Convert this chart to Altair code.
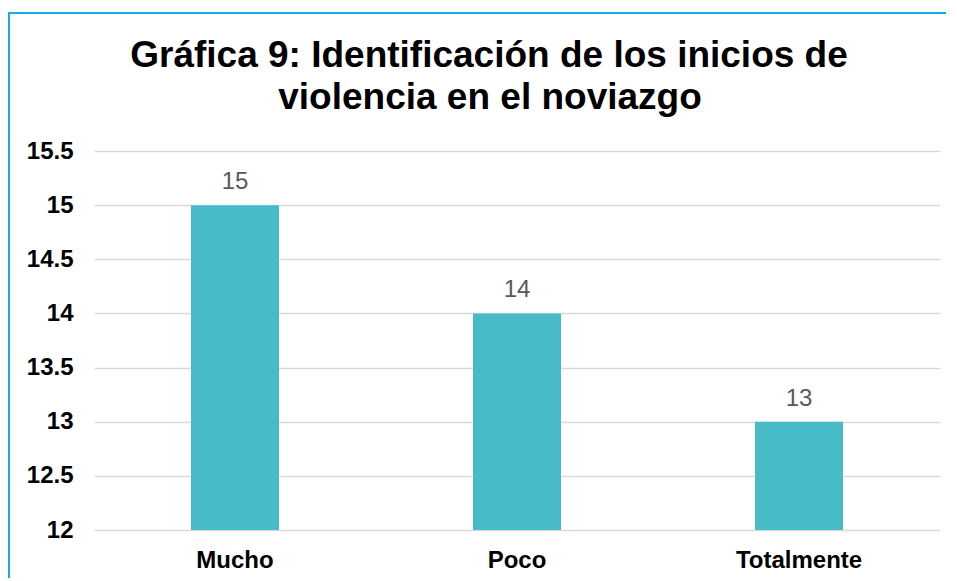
import altair as alt
import pandas as pd

title_lines = ["Gráfica 9: Identificación de los inicios de", "violencia en el noviazgo"]
categories = ["Mucho", "Poco", "Totalmente"]
values = [15, 14, 13]
y_ticks = [12, 12.5, 13, 13.5, 14, 14.5, 15, 15.5]

df = pd.DataFrame({"cat": categories, "val": values})
one = pd.DataFrame({"k": [0]})

x_enc = alt.X("cat:N", sort=categories, title=None,
              scale=alt.Scale(paddingInner=0, paddingOuter=0),
              axis=alt.Axis(labelAngle=0, labelFont="Liberation Sans", labelFontSize=24,
                            labelFontWeight="bold", labelColor="#000000", labelPadding=18,
                            domain=False, ticks=False, grid=False))
y_enc = alt.Y("val:Q", title=None,
              scale=alt.Scale(domain=[12, 15.5], nice=False, zero=False),
              axis=alt.Axis(values=y_ticks, labelFont="Liberation Sans", labelFontSize=24,
                            labelFontWeight="bold", labelColor="#000000", labelPadding=21,
                            domain=False, ticks=False, gridColor="#d9d9d9", gridWidth=1.5,
                            labelExpr="datum.value"))

base = alt.Chart(df)
bars = base.mark_bar(color="#47BCC6", size=88, clip=True).encode(x=x_enc, y=y_enc)
labels = base.mark_text(font="Liberation Sans", fontSize=24, color="#595959",
                        baseline="alphabetic", dy=-16).encode(
    x=alt.X("cat:N", sort=categories), y="val:Q", text=alt.Text("val:Q"))

border_left = alt.Chart(one).mark_rule(color="#19A9E6", strokeWidth=2).encode(
    x=alt.value(-85), y=alt.value(-138), y2=alt.value(470))
border_top = alt.Chart(one).mark_rule(color="#19A9E6", strokeWidth=2).encode(
    x=alt.value(-86), x2=alt.value(900), y=alt.value(-138))

title1 = alt.Chart(one).mark_text(font="Liberation Sans", fontSize=37, fontWeight="bold",
                                  color="#000000", baseline="alphabetic", align="center").encode(
    x=alt.value(395), y=alt.value(-84), text=alt.value(title_lines[0]))
title2 = alt.Chart(one).mark_text(font="Liberation Sans", fontSize=37, fontWeight="bold",
                                  color="#000000", baseline="alphabetic", align="center").encode(
    x=alt.value(396), y=alt.value(-42), text=alt.value(title_lines[1]))

chart = alt.layer(border_left, border_top, bars, labels, title1, title2).properties(
    width=846, height=379,
    autosize=alt.AutoSizeParams(type="none"),
    padding={"left": 86, "top": 143, "right": 6, "bottom": 48},
).configure_view(stroke=None)

chart.save("out.html", embed_options={"renderer": "svg", "actions": False})
